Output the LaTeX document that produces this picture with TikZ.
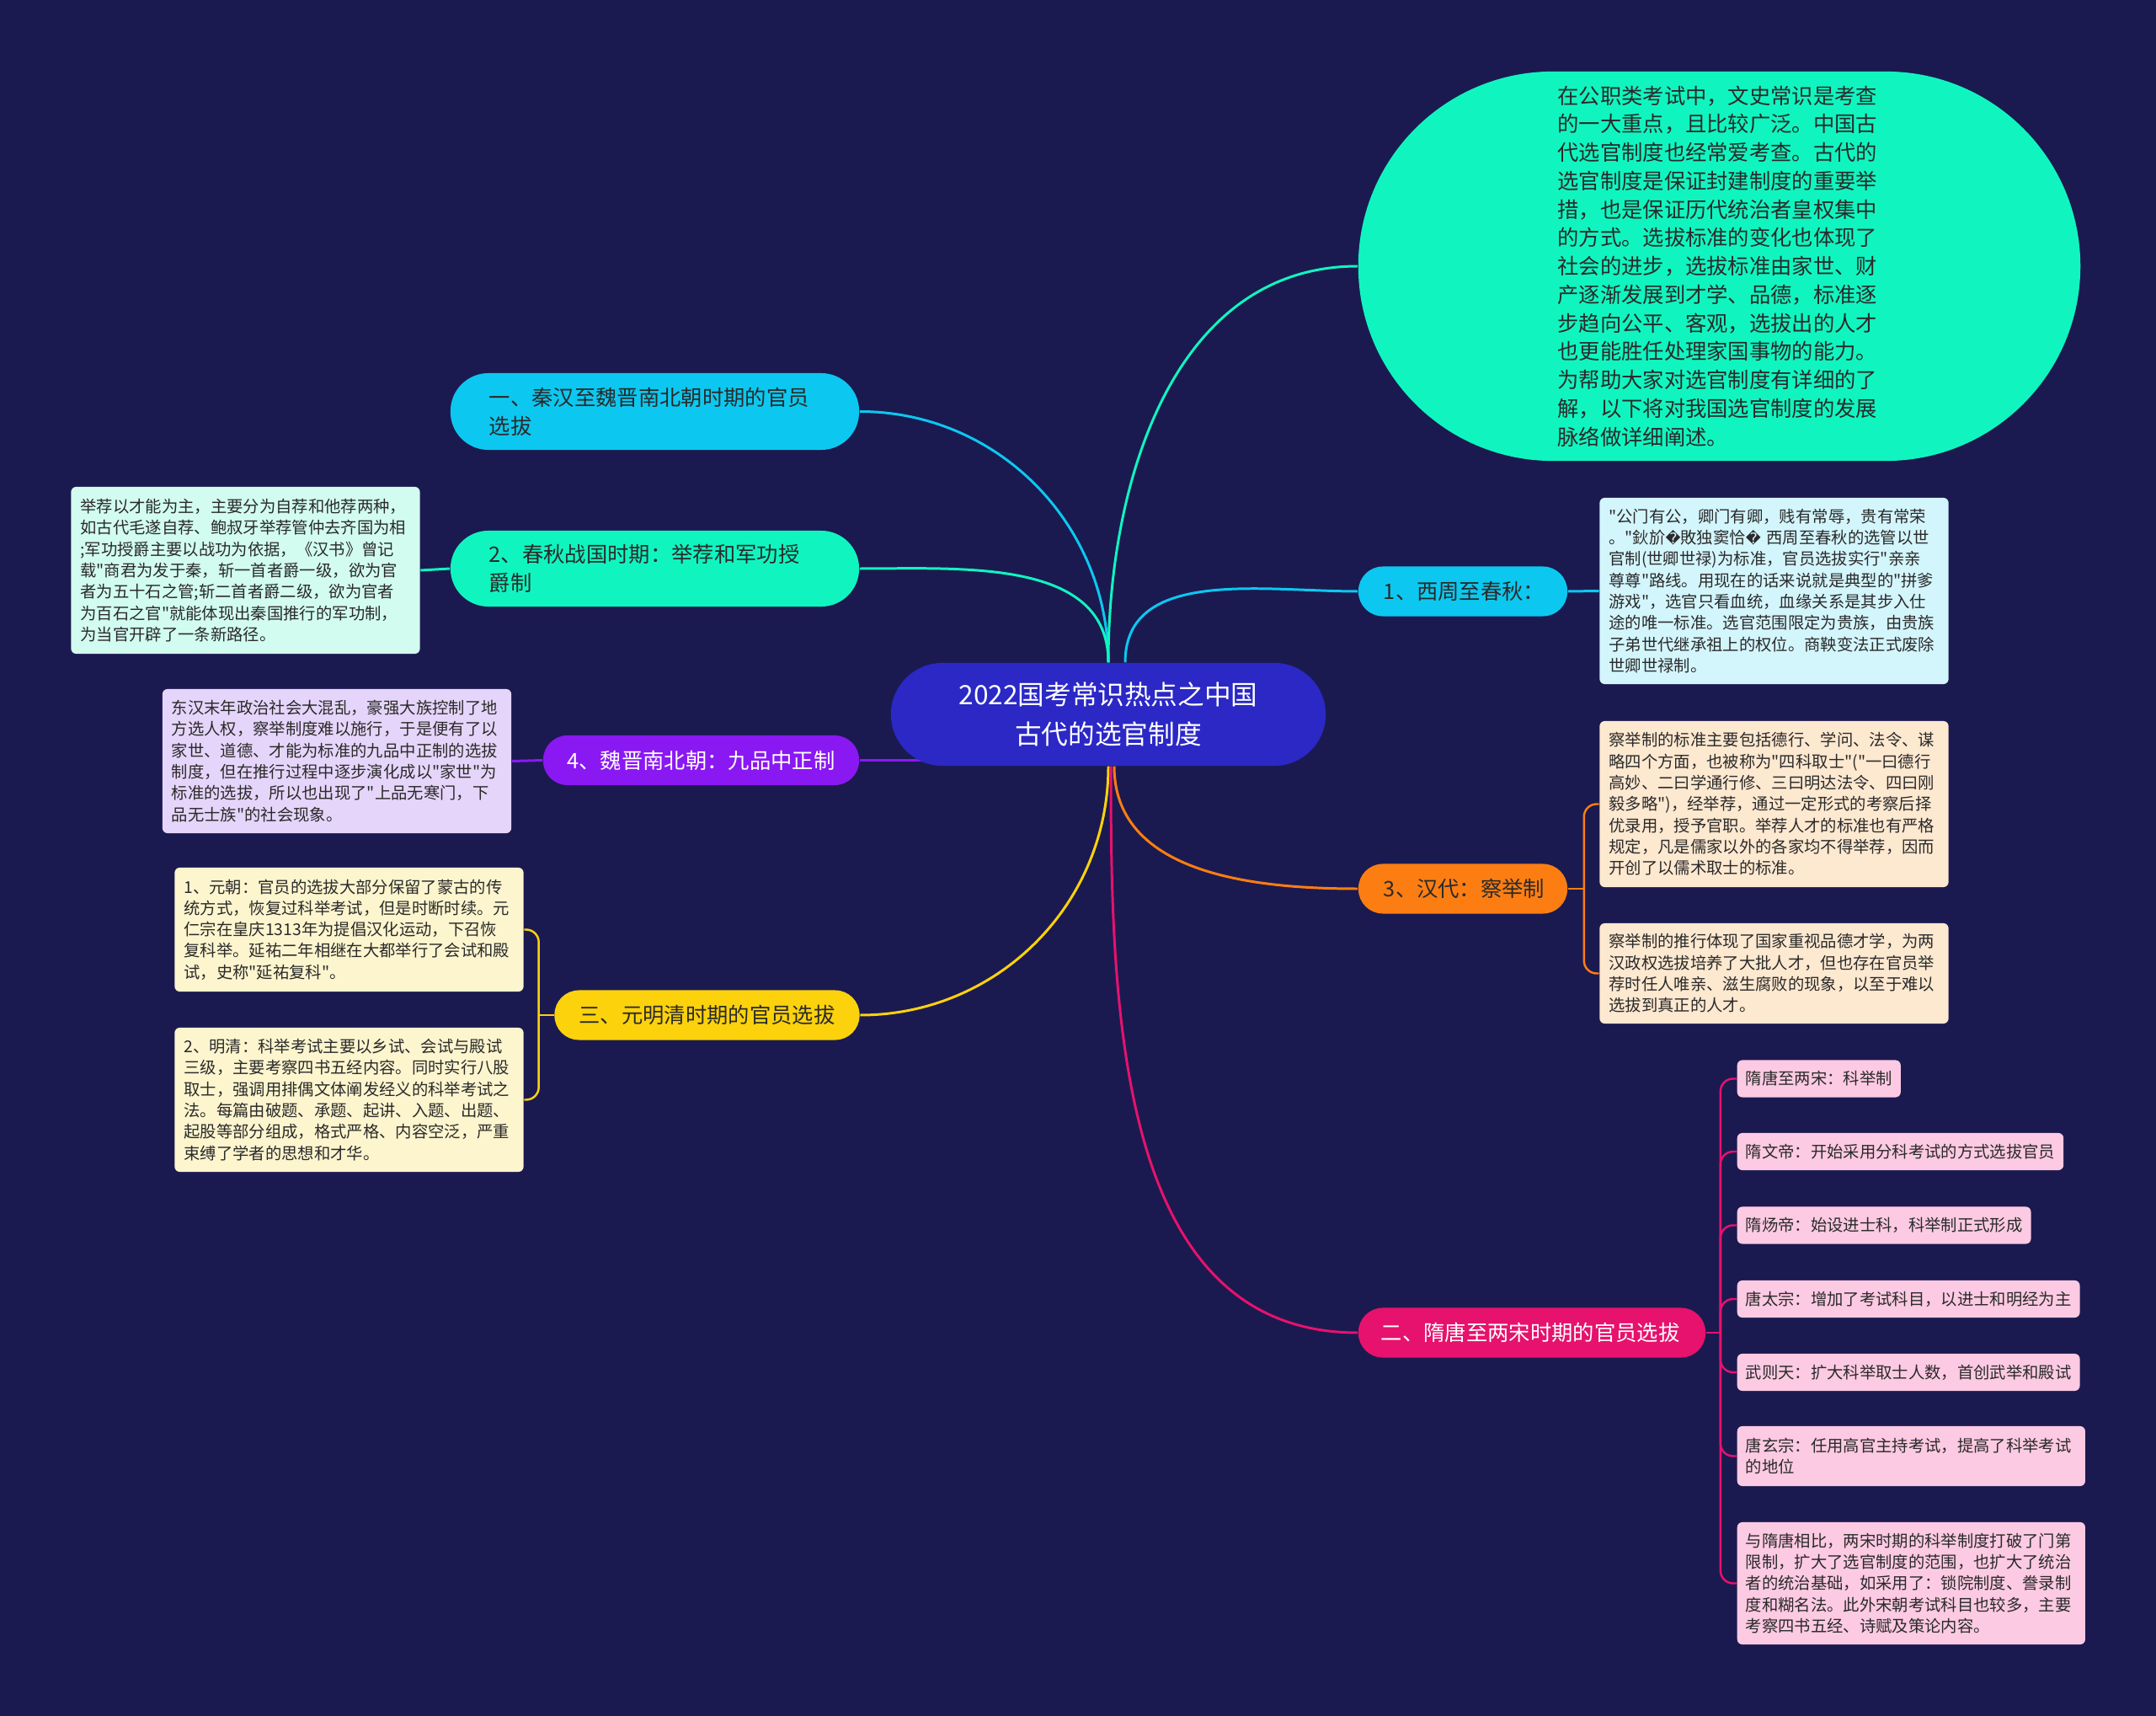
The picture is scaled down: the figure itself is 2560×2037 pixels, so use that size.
\documentclass[tikz,border=0pt]{standalone}
\usepackage{fontspec}
\setmainfont{Noto Sans CJK SC}[Ligatures=TeXOff]
\newfontfamily\dejavu{DejaVu Sans}
\pgfdeclarelayer{back}
\pgfsetlayers{back,main}
\definecolor{bgcol}{HTML}{1B1A50}
\definecolor{rootcol}{HTML}{2B28C6}
\definecolor{cyancol}{HTML}{0CC8F0}
\definecolor{mintcol}{HTML}{10F5C0}
\definecolor{orangecol}{HTML}{FC7E12}
\definecolor{magcol}{HTML}{E6126D}
\definecolor{purpcol}{HTML}{8A18F2}
\definecolor{yellcol}{HTML}{FCD20C}
\definecolor{cyannote}{HTML}{D3F5FC}
\definecolor{mintnote}{HTML}{D2FCF0}
\definecolor{peachnote}{HTML}{FDE8D0}
\definecolor{lilacnote}{HTML}{E6D5FA}
\definecolor{yellnote}{HTML}{FDF5CE}
\definecolor{pinknote}{HTML}{FCCAE2}
\definecolor{darktext}{HTML}{2A2A2A}
\newcommand{\qmark}{{\dejavu\fontsize{5}{7.2}\selectfont ^^^^fffd}}
\tikzset{
  root/.style={fill=rootcol,text=white,rounded corners=0.61cm,minimum width=5.16cm,minimum height=1.22cm,align=center,inner sep=0pt,font=\fontsize{9}{13.4}\selectfont},
  intro/.style={fill=mintcol,text=darktext,rounded corners=2.31cm,minimum width=8.57cm,minimum height=4.62cm,text width=3.84cm,align=left,inner sep=0pt,font=\fontsize{7.2}{9.6}\selectfont},
  branch/.style={rounded corners=0.29cm,minimum height=0.59cm,inner xsep=0.3cm,inner ysep=0pt,align=left,text=darktext,font=\fontsize{7.2}{9.6}\selectfont},
  note/.style={rounded corners=0.06cm,text width=3.92cm,inner xsep=0.11cm,inner ysep=0.08cm,align=left,text=darktext,font=\fontsize{5.5}{7.2}\selectfont},
  leaf/.style={note,fill=pinknote,anchor=west,text width=,inner xsep=0.1cm,inner ysep=0pt,minimum height=0.44cm},
  link/.style={line width=0.85pt},
  sublink/.style={line width=0.7pt,rounded corners=0.15cm}
}
\begin{document}
\begin{tikzpicture}[x=0.01cm,y=-0.01cm]
\useasboundingbox (0,0) rectangle (2560,2037);
\node[root] (root) at (1316,848) {2022国考常识热点之中国\\古代的选官制度};
\node[intro] (intro) at (2041.5,316) {在公职类考试中，文史常识是考查\\的一大重点，且比较广泛。中国古\\代选官制度也经常爱考查。古代的\\选官制度是保证封建制度的重要举\\措，也是保证历代统治者皇权集中\\的方式。选拔标准的变化也体现了\\社会的进步，选拔标准由家世、财\\产逐渐发展到才学、品德，标准逐\\步趋向公平、客观，选拔出的人才\\也更能胜任处理家国事物的能力。\\为帮助大家对选官制度有详细的了\\解，以下将对我国选官制度的发展\\脉络做详细阐述。};
\node[branch,fill=cyancol,text width=1.88cm] (zhou) at (1737,702) {1、西周至春秋：};
\node[note,fill=cyannote,minimum height=2.21cm] (zhounote) at (2106.5,701.5) {"公门有公，卿门有卿，贱有常辱，贵有常荣\\。"鈥斺\qmark 敗独窦恰\qmark{}~西周至春秋的选管以世\\官制(世卿世禄)为标准，官员选拔实行"亲亲\\尊尊"路线。用现在的话来说就是典型的"拼爹\\游戏"，选官只看血统，血缘关系是其步入仕\\途的唯一标准。选官范围限定为贵族，由贵族\\子弟世代继承祖上的权位。商鞅变法正式废除\\世卿世禄制。};
\node[branch,fill=orangecol,text width=1.88cm] (han) at (1737,1055) {3、汉代：察举制};
\node[note,fill=peachnote,minimum height=1.97cm] (hannote1) at (2106.5,954.5) {察举制的标准主要包括德行、学问、法令、谋\\略四个方面，也被称为"四科取士"("一曰德行\\高妙、二曰学通行修、三曰明达法令、四曰刚\\毅多略")，经举荐，通过一定形式的考察后择\\优录用，授予官职。举荐人才的标准也有严格\\规定，凡是儒家以外的各家均不得举荐，因而\\开创了以儒术取士的标准。};
\node[note,fill=peachnote,minimum height=1.19cm] (hannote2) at (2106.5,1155.5) {察举制的推行体现了国家重视品德才学，为两\\汉政权选拔培养了大批人才，但也存在官员举\\荐时任人唯亲、滋生腐败的现象，以至于难以\\选拔到真正的人才。};
\node[branch,fill=magcol,text=white,text width=3.58cm,inner xsep=0.27cm] (suitang) at (1819,1582) {二、隋唐至两宋时期的官员选拔};
\foreach \i/\y/\t in {1/1280.5/隋唐至两宋：科举制,2/1367/隋文帝：开始采用分科考试的方式选拔官员,3/1454.5/隋炀帝：始设进士科，科举制正式形成,4/1542/唐太宗：增加了考试科目，以进士和明经为主,5/1629/武则天：扩大科举取士人数，首创武举和殿试}
  \node[leaf] (st\i) at (2062,\y) {\t};
\node[leaf,text width=3.93cm,minimum height=0.71cm] (st6) at (2062,1728.5) {唐玄宗：任用高官主持考试，提高了科举考试\\的地位};
\node[leaf,text width=3.93cm,minimum height=1.45cm] (st7) at (2062,1879.5) {与隋唐相比，两宋时期的科举制度打破了门第\\限制，扩大了选官制度的范围，也扩大了统治\\者的统治基础，如采用了：锁院制度、誊录制\\度和糊名法。此外宋朝考试科目也较多，主要\\考察四书五经、诗赋及策论内容。};
\node[branch,fill=cyancol,text width=3.93cm,inner xsep=0.46cm,rounded corners=0.45cm,minimum height=0.91cm] (qinhan) at (777.5,488.5) {一、秦汉至魏晋南北朝时期的官员\\选拔};
\node[branch,fill=mintcol,text width=3.93cm,inner xsep=0.46cm,rounded corners=0.45cm,minimum height=0.9cm] (chunqiu) at (777.5,675) {2、春秋战国时期：举荐和军功授\\爵制};
\node[note,fill=mintnote,minimum height=1.98cm] (chunqiunote) at (291.5,677) {举荐以才能为主，主要分为自荐和他荐两种，\\如古代毛遂自荐、鲍叔牙举荐管仲去齐国为相\\;军功授爵主要以战功为依据，《汉书》曾记\\载"商君为发于秦，斩一首者爵一级，欲为官\\者为五十石之管;斩二首者爵二级，欲为官者\\为百石之官"就能体现出秦国推行的军功制，\\为当官开辟了一条新路径。};
\node[branch,fill=purpcol,text=white,text width=3.2cm,inner xsep=0.275cm,align=center] (weijin) at (832.5,902.5) {4、魏晋南北朝：九品中正制};
\node[note,fill=lilacnote,minimum height=1.71cm] (weijinnote) at (400,903.5) {东汉末年政治社会大混乱，豪强大族控制了地\\方选人权，察举制度难以施行，于是便有了以\\家世、道德、才能为标准的九品中正制的选拔\\制度，但在推行过程中逐步演化成以"家世"为\\标准的选拔，所以也出现了"上品无寒门，下\\品无士族"的社会现象。};
\node[branch,fill=yellcol,text width=3.08cm,inner xsep=0.27cm,align=center] (yuanming) at (839.5,1205) {三、元明清时期的官员选拔};
\node[note,fill=yellnote,minimum height=1.47cm] (yuannote) at (414.5,1103.5) {1、元朝：官员的选拔大部分保留了蒙古的传\\统方式，恢复过科举考试，但是时断时续。元\\仁宗在皇庆1313年为提倡汉化运动，下召恢\\复科举。延祐二年相继在大都举行了会试和殿\\试，史称"延祐复科"。};
\node[note,fill=yellnote,minimum height=1.71cm] (mingnote) at (414.5,1305.5) {2、明清：科举考试主要以乡试、会试与殿试\\三级，主要考察四书五经内容。同时实行八股\\取士，强调用排偶文体阐发经义的科举考试之\\法。每篇由破题、承题、起讲、入题、出题、\\起股等部分组成，格式严格、内容空泛，严重\\束缚了学者的思想和才华。};
\begin{pgfonlayer}{back}
\fill[bgcol] (0,0) rectangle (2560,2037);
\draw[link,cyancol] (root.north) to[out=90,in=0] (qinhan.east);
\draw[link,mintcol] (root.north) to[out=90,in=0] (chunqiu.east);
\draw[link,mintcol] (root.north) to[out=90,in=180] (intro.west);
\draw[link,cyancol] ([xshift=0.2cm]root.north) to[out=90,in=180] (zhou.west);
\draw[link,purpcol] (weijin.east) -- (weijin.east -| root.center);
\draw[link,yellcol] (root.south) to[out=-90,in=0] (yuanming.east);
\draw[link,magcol] ([xshift=0.03cm]root.south) to[out=-90,in=180] (suitang.west);
\draw[link,orangecol] ([xshift=0.07cm]root.south) to[out=-90,in=180] (han.west);
\draw[link,cyancol] (zhou.east) -- (zhounote.west);
\draw[link,mintcol] (chunqiu.west) -- (chunqiunote.east);
\draw[link,purpcol] (weijin.west) -- (weijinnote.east);
\draw[sublink,orangecol] (han.east) -- ++(19,0) coordinate (hanfork);
\foreach \n in {hannote1,hannote2} \draw[sublink,orangecol] (hanfork) |- (\n.west);
\draw[sublink,yellcol] (yuanming.west) -- ++(-18,0) coordinate (yuanfork);
\foreach \n in {yuannote,mingnote} \draw[sublink,yellcol] (yuanfork) |- (\n.east);
\draw[sublink,magcol] (suitang.east) -- ++(17,0) coordinate (suifork);
\foreach \i in {1,...,7} \draw[sublink,magcol] (suifork) |- (st\i.west);
\end{pgfonlayer}
\end{tikzpicture}
\end{document}
